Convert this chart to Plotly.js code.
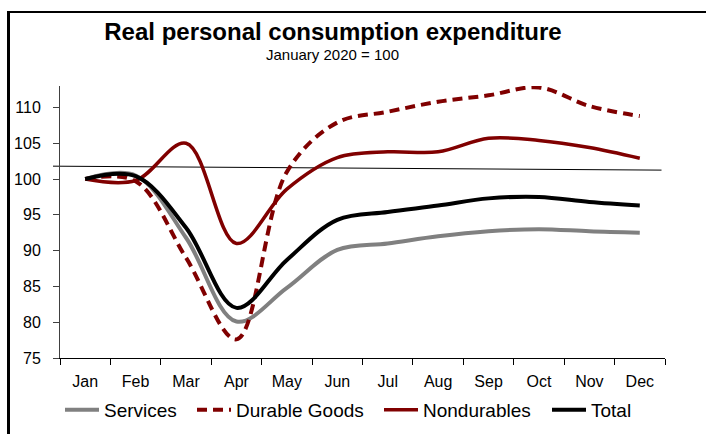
<!DOCTYPE html>
<html>
<head>
<meta charset="utf-8">
<script src="https://cdn.plot.ly/plotly-3.0.1.min.js"></script>
<style>
  html, body { margin: 0; padding: 0; background: #fff; }
  #wrap { position: relative; width: 706px; height: 434px; overflow: hidden; }
  #chart { position: absolute; left: 0; top: 0; width: 706px; height: 434px; }
  #frame { position: absolute; left: 7px; top: 11px; width: 720px; height: 440px;
           border-left: 3px solid #000; border-top: 2px solid #000; pointer-events: none; }
</style>
</head>
<body>
<div id="wrap">
  <div id="chart"></div>
  <div id="frame"></div>
</div>
<script>
const months = ['Jan','Feb','Mar','Apr','May','Jun','Jul','Aug','Sep','Oct','Nov','Dec'];
const services   = [100, 100.5, 91.8, 80.1, 84.8, 90.1, 91.0, 92.0, 92.7, 93.0, 92.7, 92.5];
const durable    = [100, 99.7, 89.0, 77.6, 101.0, 107.9, 109.4, 110.8, 111.7, 112.8, 110.2, 108.8];
const nondurable = [100, 99.8, 105.0, 91.0, 98.6, 103.0, 103.8, 103.8, 105.7, 105.4, 104.4, 102.9];
const total      = [100, 100.4, 93.2, 82.0, 88.7, 94.3, 95.4, 96.3, 97.3, 97.5, 96.8, 96.3];
const refLine    = [101.8, 101.25];
const yTicks     = [75, 80, 85, 90, 95, 100, 105, 110];

const font = 'Liberation Sans, Arial, sans-serif';

const traces = [
  { name: 'Services', x: months, y: services, type: 'scatter', mode: 'lines', legend: 'legend',
    line: { color: '#808080', width: 4, shape: 'spline', smoothing: 1 } },
  { name: 'Durable Goods', x: months, y: durable, type: 'scatter', mode: 'lines', legend: 'legend2',
    line: { color: '#800000', width: 4, shape: 'spline', smoothing: 1, dash: '10px,6px' } },
  { name: 'Nondurables', x: months, y: nondurable, type: 'scatter', mode: 'lines', legend: 'legend3',
    line: { color: '#800000', width: 3.5, shape: 'spline', smoothing: 1 } },
  { name: 'Total', x: months, y: total, type: 'scatter', mode: 'lines', legend: 'legend4',
    line: { color: '#000000', width: 4, shape: 'spline', smoothing: 1 } }
];

function leg(lineStartPx) {
  return { orientation: 'h', xref: 'container', yref: 'container',
           x: (lineStartPx - 5) / 706, xanchor: 'left',
           y: 1 - 410 / 434, yanchor: 'middle', itemwidth: 34,
           font: { family: font, size: 19, color: '#000' },
           bgcolor: 'rgba(0,0,0,0)', borderwidth: 0 };
}

const layout = {
  width: 706, height: 434,
  margin: { l: 60, r: 40.5, t: 86, b: 76 },
  paper_bgcolor: '#fff', plot_bgcolor: '#fff',
  font: { family: font, color: '#000' },
  title: { text: '<b>Real personal consumption expenditure</b>',
           font: { family: font, size: 24, color: '#000' },
           xref: 'container', yref: 'container', x: 333/706, xanchor: 'center',
           y: 1 - 31.5/434, yanchor: 'middle' },
  annotations: [{ text: 'January 2020 = 100', xref: 'paper', yref: 'paper',
                  x: (333-60)/605.5, y: (358-55)/272, xanchor: 'center', yanchor: 'middle',
                  showarrow: false, font: { family: font, size: 15, color: '#000' } }],
  xaxis: { type: 'category', range: [-0.5, 11.5], tickson: 'boundaries',
           ticks: 'outside', ticklen: 6, tickcolor: '#000', showline: true,
           linecolor: '#000', linewidth: 1, showgrid: false, zeroline: false,
           tickfont: { family: font, size: 16, color: '#000' }, ticklabelstandoff: 9 },
  yaxis: { range: [75, 113], tickvals: yTicks, ticks: 'outside', ticklen: 6,
           tickcolor: '#404040', showline: true, linecolor: '#404040', linewidth: 1,
           showgrid: false, zeroline: false,
           tickfont: { family: font, size: 16, color: '#000' }, ticklabelstandoff: 9 },
  shapes: [{ type: 'line', xref: 'paper', yref: 'y', x0: (53-60)/605.5, x1: (662-60)/605.5,
             y0: refLine[0], y1: refLine[1], line: { color: '#000', width: 1 }, layer: 'below' }],
  showlegend: true,
  legend: leg(65),
  legend2: leg(197),
  legend3: leg(384),
  legend4: leg(552)
};

Plotly.newPlot('chart', traces, layout, { staticPlot: true, displayModeBar: false });
</script>
</body>
</html>
